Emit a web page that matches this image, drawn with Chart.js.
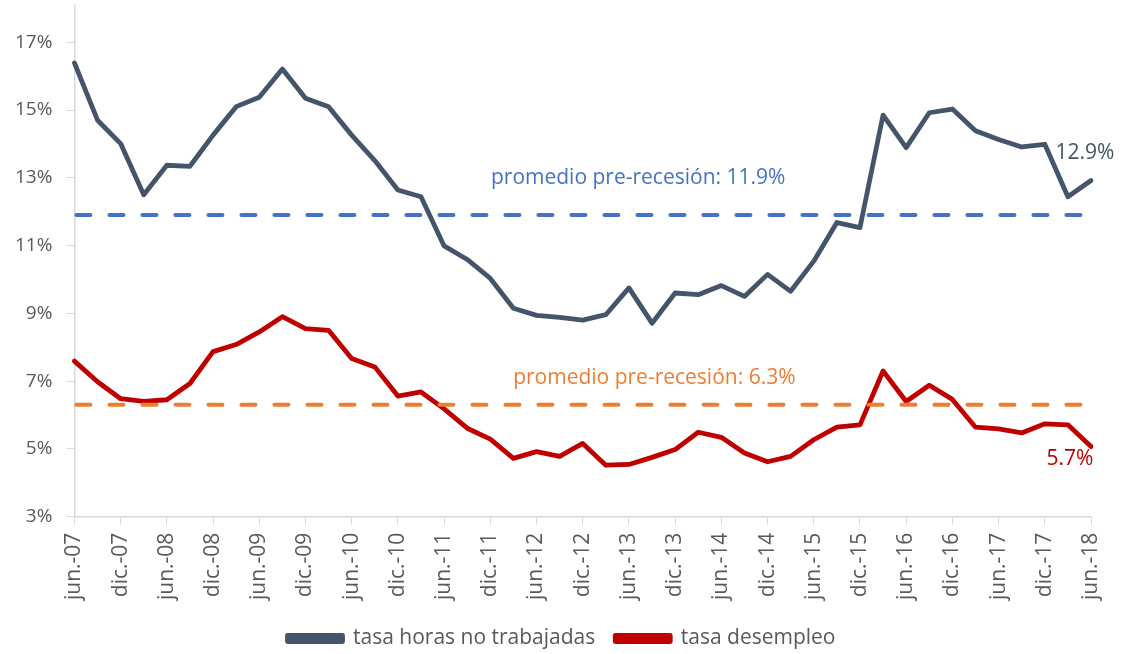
<!DOCTYPE html>
<html lang="es">
  <head>
    <meta charset="utf-8" />
    <title>Horas no trabajadas y desempleo</title>
    <style>
      * {
        margin: 0;
        padding: 0;
      }
      body {
        background: #fff;
      }
      .chartBox {
        width: 1122px;
        height: 654px;
      }
    </style>
  </head>
  <body>
    <div class="chartBox">
      <canvas id="myChart"></canvas>
    </div>

    <script src="https://cdn.jsdelivr.net/npm/chart.js"></script>

    <script>
      const quarters = [
        "jun.-07", "sep.-07", "dic.-07", "mar.-08", "jun.-08", "sep.-08", "dic.-08", "mar.-09",
        "jun.-09", "sep.-09", "dic.-09", "mar.-10", "jun.-10", "sep.-10", "dic.-10", "mar.-11",
        "jun.-11", "sep.-11", "dic.-11", "mar.-12", "jun.-12", "sep.-12", "dic.-12", "mar.-13",
        "jun.-13", "sep.-13", "dic.-13", "mar.-14", "jun.-14", "sep.-14", "dic.-14", "mar.-15",
        "jun.-15", "sep.-15", "dic.-15", "mar.-16", "jun.-16", "sep.-16", "dic.-16", "mar.-17",
        "jun.-17", "sep.-17", "dic.-17", "mar.-18", "jun.-18",
      ];

      const horasNoTrabajadas = [
        16.39, 14.7, 14.01, 12.5, 13.37, 13.34, 14.26, 15.1, 15.38, 16.21, 15.35, 15.1, 14.26,
        13.51, 12.64, 12.44, 10.99, 10.59, 10.03, 9.15, 8.94, 8.88, 8.8, 8.96, 9.75, 8.71, 9.6,
        9.55, 9.82, 9.5, 10.15, 9.65, 10.54, 11.68, 11.53, 14.85, 13.89, 14.92, 15.03, 14.39,
        14.13, 13.91, 13.99, 12.44, 12.92,
      ];

      const desempleo = [
        7.59, 6.98, 6.48, 6.4, 6.45, 6.93, 7.87, 8.08, 8.45, 8.9, 8.55, 8.5, 7.67, 7.42, 6.56,
        6.68, 6.18, 5.61, 5.29, 4.72, 4.92, 4.78, 5.16, 4.52, 4.54, 4.75, 4.98, 5.49, 5.34, 4.88,
        4.62, 4.78, 5.27, 5.64, 5.71, 7.3, 6.4, 6.88, 6.46, 5.64, 5.59, 5.47, 5.74, 5.71, 5.07,
      ];

      const promedioHoras = 11.9;
      const promedioDesempleo = 6.3;
      const yTicks = [3, 5, 7, 9, 11, 13, 15, 17];

      const textoPromedioHoras = "promedio pre-recesión: 11.9%";
      const textoPromedioDesempleo = "promedio pre-recesión: 6.3%";
      const etiquetaHoras = "12.9%";
      const etiquetaDesempleo = "5.7%";

      const FONT = "'Open Sans', sans-serif";
      const GREY = "#44546A";
      const RED = "#C00000";
      const BLUE = "#4472C4";
      const ORANGE = "#ED7D31";
      const AXIS = "#D9D9D9";
      const TEXT = "#595959";

      // dashed average lines plus the text notes
      const notes = {
        id: "notes",
        afterDatasetsDraw(chart) {
          const {
            ctx,
            scales: { x, y },
          } = chart;
          const last = quarters.length - 1;

          ctx.save();
          ctx.lineWidth = 4;
          ctx.lineCap = "round";
          ctx.setLineDash([14, 19]);
          [
            [promedioHoras, BLUE],
            [promedioDesempleo, ORANGE],
          ].forEach(([v, c]) => {
            ctx.strokeStyle = c;
            ctx.beginPath();
            ctx.moveTo(x.getPixelForValue(0) + 2, y.getPixelForValue(v));
            ctx.lineTo(x.getPixelForValue(last), y.getPixelForValue(v));
            ctx.stroke();
          });
          ctx.restore();

          ctx.save();
          ctx.font = "21px " + FONT;
          ctx.textAlign = "center";
          ctx.textBaseline = "middle";
          ctx.fillStyle = BLUE;
          ctx.fillText(textoPromedioHoras, x.getPixelForValue(24.4), y.getPixelForValue(12.98));
          ctx.fillStyle = ORANGE;
          ctx.fillText(textoPromedioDesempleo, x.getPixelForValue(25.1), y.getPixelForValue(7.1));

          const hx = x.getPixelForValue(last);
          ctx.fillStyle = GREY;
          ctx.fillText(etiquetaHoras, hx - 6, y.getPixelForValue(horasNoTrabajadas[last]) - 28);
          ctx.fillStyle = RED;
          ctx.fillText(etiquetaDesempleo, hx - 21, y.getPixelForValue(desempleo[last]) + 13);
          ctx.restore();
        },
      };

      const data = {
        labels: quarters,
        datasets: [
          {
            label: "tasa horas no trabajadas",
            data: horasNoTrabajadas,
            borderColor: GREY,
            backgroundColor: GREY,
          },
          {
            label: "tasa desempleo",
            data: desempleo,
            borderColor: RED,
            backgroundColor: RED,
          },
        ],
      };

      const config = {
        type: "line",
        data: data,
        options: {
          responsive: true,
          maintainAspectRatio: false,
          devicePixelRatio: 1,
          animation: false,
          layout: {
            padding: { top: 5, right: 0, left: 1, bottom: -5 },
          },
          elements: {
            line: {
              borderWidth: 4.8,
              tension: 0,
              borderJoinStyle: "round",
              borderCapStyle: "round",
            },
            point: { radius: 0 },
          },
          plugins: {
            tooltip: { enabled: false },
            legend: {
              position: "bottom",
              labels: {
                boxWidth: 55,
                boxHeight: 6,
                padding: 20,
                color: TEXT,
                font: { family: FONT, size: 21 },
              },
            },
          },
          scales: {
            x: {
              offset: false,
              grid: {
                drawOnChartArea: false,
                color: AXIS,
                tickLength: 8,
              },
              border: { color: AXIS, width: 1.5 },
              afterFit(scale) {
                scale.paddingRight = 31;
              },
              ticks: {
                autoSkip: false,
                maxRotation: 90,
                minRotation: 90,
                padding: 8,
                color: TEXT,
                font: { family: FONT, size: 21 },
                callback(value, index) {
                  const lab = quarters[index];
                  return lab.startsWith("jun") || lab.startsWith("dic") ? lab : null;
                },
              },
            },
            y: {
              min: 3,
              max: 18.1,
              grid: {
                drawOnChartArea: false,
                color: AXIS,
                tickLength: 8,
              },
              border: { color: AXIS, width: 1.5 },
              afterBuildTicks(scale) {
                scale.ticks = yTicks.map((v) => ({ value: v }));
              },
              afterFit(scale) {
                scale.paddingTop = 0;
              },
              ticks: {
                padding: 14,
                color: TEXT,
                font: { family: FONT, size: 19 },
                callback: (v) => v + "%",
              },
            },
          },
        },
        plugins: [notes],
      };

      const myChart = new Chart(document.getElementById("myChart"), config);
    </script>
  </body>
</html>
